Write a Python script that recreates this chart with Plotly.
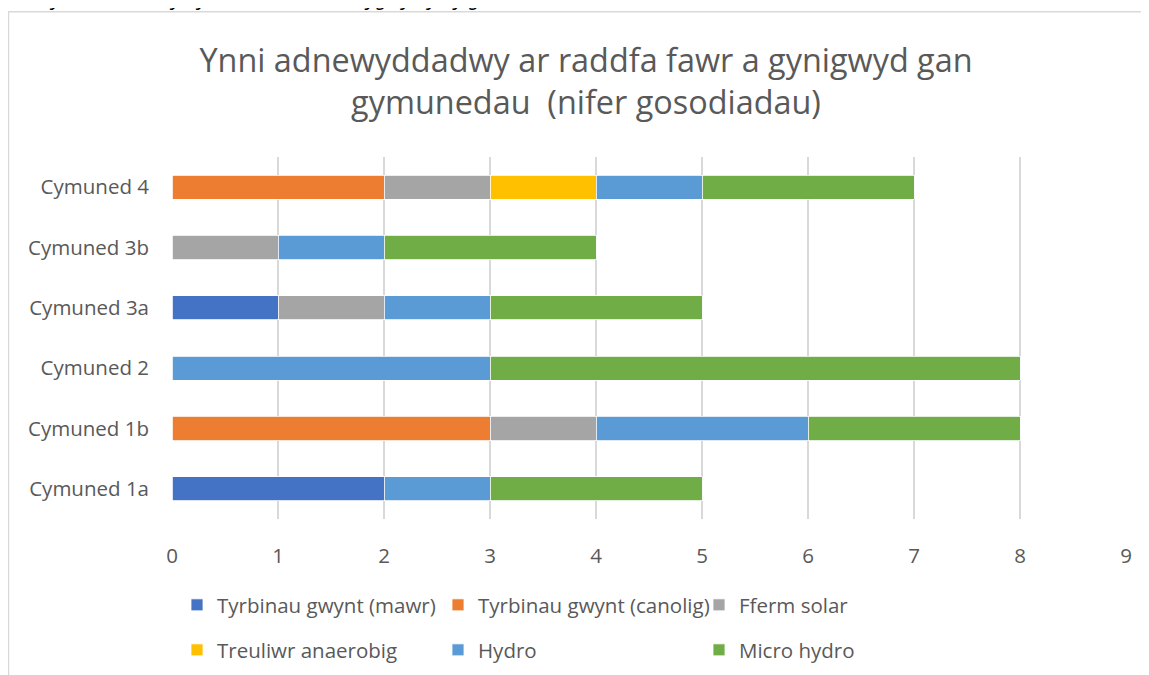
import plotly.graph_objects as go

categories = ["Cymuned 1a", "Cymuned 1b", "Cymuned 2", "Cymuned 3a", "Cymuned 3b", "Cymuned 4"]
series_names = ["Tyrbinau gwynt (mawr)", "Tyrbinau gwynt (canolig)", "Fferm solar",
                "Treuliwr anaerobig", "Hydro", "Micro hydro"]
wind_large = [2, 0, 0, 1, 0, 0]
wind_medium = [0, 3, 0, 0, 0, 2]
solar_farm = [0, 1, 0, 1, 1, 1]
anaerobic = [0, 0, 0, 0, 0, 1]
hydro = [1, 2, 3, 1, 1, 1]
micro_hydro = [2, 2, 5, 2, 2, 2]
x_ticks = [0, 1, 2, 3, 4, 5, 6, 7, 8, 9]
title_text = "Ynni adnewyddadwy ar raddfa fawr a gynigwyd gan<br>gymunedau  (nifer gosodiadau)"
top_text = "pob cymuned lade yn y senarios a ddatblygwyd yn y gweithdai."

colors = ["#4472C4", "#ED7D31", "#A5A5A5", "#FFC000", "#5B9BD5", "#70AD47"]
values = [wind_large, wind_medium, solar_farm, anaerobic, hydro, micro_hydro]

# page has an 8px body margin: figure coordinates = page coordinates - 8
OFF = 8
W, H = 1149 - OFF, 675 - OFF
ml, mr, mt, mb = 172 - OFF, 1149 - 1126, 157 - OFF, 675 - 519.5
pw = W - ml - mr
ph = H - mt - mb

FONT = "Open Sans"
GRAY = "#595959"

fig = go.Figure()
for i, (name, vals, col) in enumerate(zip(series_names, values, colors)):
    fig.add_trace(go.Bar(
        y=categories, x=vals, name=name, orientation="h",
        marker=dict(color=col, line=dict(color="white", width=0.8)),
        legend="legend" if i < 3 else "legend2",
    ))

def px_x(p):  # page px -> paper x
    return (p - OFF - ml) / pw

def px_y(p):  # page px -> paper y
    return (H - mb - (p - OFF)) / ph

def cx(p):  # page px -> container x
    return (p - OFF) / W

def cy(p):  # page px -> container y
    return 1 - (p - OFF) / H

legend_common = dict(orientation="h", xref="container", yref="container",
                     xanchor="left", yanchor="top",
                     entrywidth=216, entrywidthmode="pixels", traceorder="normal",
                     font=dict(size=20.5, color=GRAY), bgcolor="rgba(0,0,0,0)",
                     itemclick=False)

fig.update_layout(
    width=W, height=H,
    margin=dict(l=ml, r=mr, t=mt, b=mb),
    paper_bgcolor="white", plot_bgcolor="white",
    barmode="stack", bargap=0.6,
    font=dict(family=FONT, color=GRAY, size=20.5),
    title=dict(text=title_text, x=(586 - OFF) / W, xref="container", xanchor="center",
               y=1 - 64 / H, yref="container", yanchor="middle",
               font=dict(size=32.4, color=GRAY, family=FONT)),
    xaxis=dict(range=[0, 9], tickvals=x_ticks, showgrid=True, gridcolor="#D9D9D9",
               gridwidth=1.5, zeroline=False, showline=False, ticks="",
               tickfont=dict(size=20.5, color=GRAY), ticklabelstandoff=22,
               automargin=False),
    yaxis=dict(categoryorder="array", categoryarray=categories, showgrid=False,
               zeroline=False, showline=False, ticks="",
               tickfont=dict(size=20.5, color=GRAY), ticklabelstandoff=22,
               automargin=False),
    legend=dict(x=cx(177), y=cy(585), **legend_common),
    legend2=dict(x=cx(177), y=cy(630), **legend_common),
    shapes=[dict(type="rect", xref="paper", yref="paper",
                 x0=px_x(8.5), x1=px_x(1200), y0=px_y(720), y1=px_y(11.5),
                 line=dict(color="#D9D9D9", width=1.5), fillcolor="rgba(0,0,0,0)",
                 layer="below")],
    annotations=[dict(text="<i>" + top_text + "</i>", xref="paper", yref="paper",
                      x=px_x(0), y=px_y(-3),
                      xanchor="left", yanchor="middle", showarrow=False,
                      font=dict(size=20, color="black", family="Noto Sans"))],
)

fig.write_html("out.html")
